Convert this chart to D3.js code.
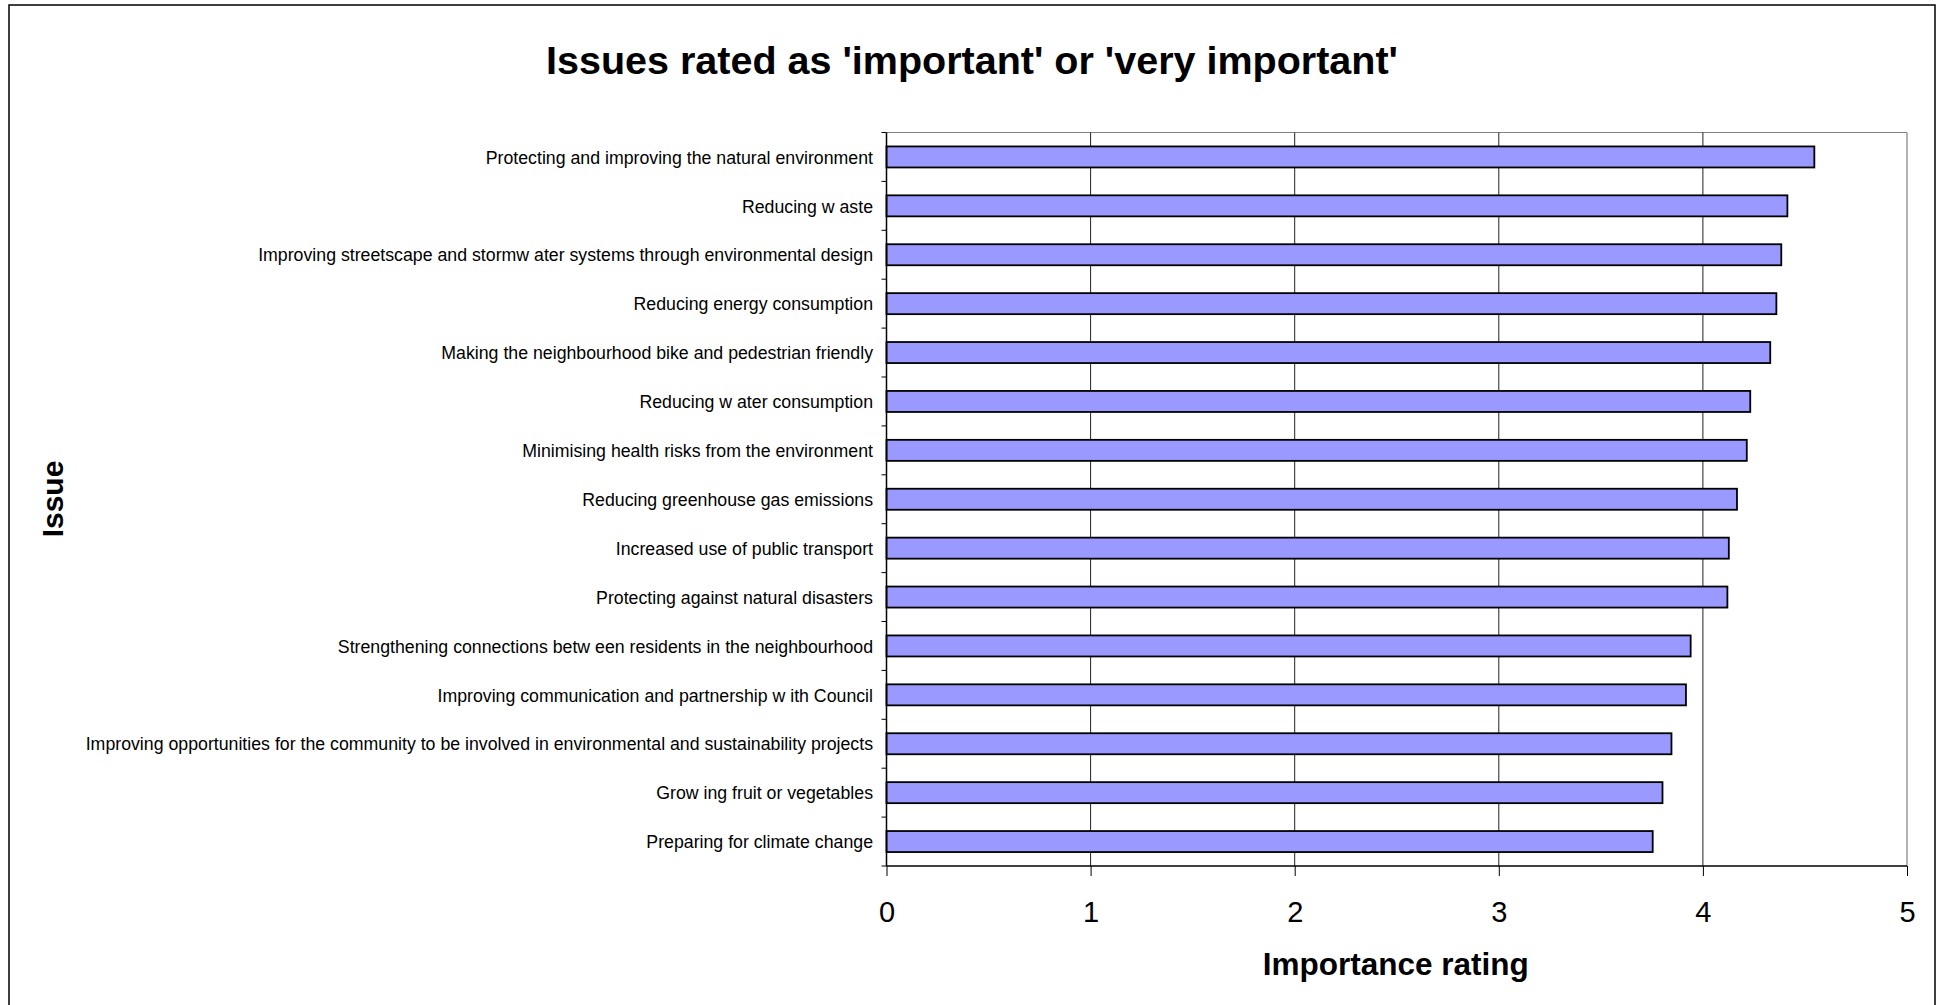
<!DOCTYPE html>
<html>
<head>
<meta charset="utf-8">
<script src="https://cdn.jsdelivr.net/npm/d3@7"></script>
<style>
  html, body { margin: 0; padding: 0; background: #fff; }
  svg { display: block; }
  text { font-family: "Liberation Sans", Arial, sans-serif; }
</style>
</head>
<body>
<svg id="chart" width="1944" height="1005"></svg>
<script>
const titleText = "Issues rated as 'important' or 'very important'";
const xTitle = "Importance rating";
const yTitle = "Issue";

const categories = [
  "Protecting and improving the natural environment",
  "Reducing w aste",
  "Improving streetscape and stormw ater systems through environmental design",
  "Reducing energy consumption",
  "Making the neighbourhood bike and pedestrian friendly",
  "Reducing w ater consumption",
  "Minimising health risks from the environment",
  "Reducing greenhouse gas emissions",
  "Increased use of public transport",
  "Protecting against natural disasters",
  "Strengthening connections betw een residents in the neighbourhood",
  "Improving communication and partnership w ith Council",
  "Improving opportunities for the community to be involved in environmental and sustainability projects",
  "Grow ing fruit or vegetables",
  "Preparing for climate change"
];
const ratings = [4.546, 4.414, 4.384, 4.360, 4.330, 4.232, 4.215, 4.167, 4.127, 4.120, 3.940, 3.917, 3.846, 3.802, 3.754];
const xTicks = [0, 1, 2, 3, 4, 5];

const svg = d3.select("#chart");
const W = 1944, H = 1005;
const plot = { left: 886.5, right: 1907, top: 132.5, bottom: 866 };

// outer frame
svg.append("rect")
  .attr("x", 9).attr("y", 5)
  .attr("width", 1935 - 9).attr("height", H + 10)
  .attr("fill", "#fff").attr("stroke", "#000").attr("stroke-width", 1.5);

const x = d3.scaleLinear().domain([0, 5]).range([plot.left, plot.right]);
const y = d3.scaleBand().domain(categories).range([plot.top, plot.bottom]).paddingInner(0.57).paddingOuter(0.285);
const yOuter = d3.scaleBand().domain(categories).range([plot.top, plot.bottom]);

// plot border (top & right gray)
svg.append("line").attr("x1", plot.left).attr("x2", plot.right).attr("y1", plot.top).attr("y2", plot.top)
  .attr("stroke", "#808080").attr("stroke-width", 1.2);
svg.append("line").attr("x1", plot.right).attr("x2", plot.right).attr("y1", plot.top).attr("y2", plot.bottom)
  .attr("stroke", "#808080").attr("stroke-width", 1.2);

// gridlines
svg.append("g").selectAll("line")
  .data(xTicks.filter(d => d > 0 && d < 5))
  .join("line")
  .attr("x1", d => x(d)).attr("x2", d => x(d))
  .attr("y1", plot.top).attr("y2", plot.bottom)
  .attr("stroke", "#222").attr("stroke-width", 1);

// bars
svg.append("g").selectAll("rect")
  .data(categories)
  .join("rect")
  .attr("x", x(0))
  .attr("y", d => y(d))
  .attr("width", (d, i) => x(ratings[i]) - x(0))
  .attr("height", y.bandwidth())
  .attr("fill", "#9999FF")
  .attr("stroke", "#000")
  .attr("stroke-width", 1.8);

// bottom axis
const xAxis = d3.axisBottom(x).tickValues(xTicks).tickSize(10).tickPadding(6).tickFormat(d3.format("d"));
const gx = svg.append("g").attr("transform", `translate(0,${plot.bottom})`).call(xAxis);
gx.select(".domain").attr("stroke", "#000").attr("stroke-width", 1.5).attr("d", `M${plot.left},0H${plot.right}`);
gx.selectAll(".tick line").attr("stroke", "#000").attr("stroke-width", 1);
gx.selectAll(".tick text")
  .attr("font-size", "29px").attr("fill", "#000")
  .attr("font-family", "Liberation Sans, Arial, sans-serif")
  .attr("dy", null)
  .attr("y", 921.5 - plot.bottom);

// left axis line and boundary ticks
svg.append("line").attr("x1", plot.left).attr("x2", plot.left).attr("y1", plot.top).attr("y2", plot.bottom)
  .attr("stroke", "#000").attr("stroke-width", 1.5);
const boundaries = categories.map(c => yOuter(c)).concat([plot.bottom]);
svg.append("g").selectAll("line")
  .data(boundaries)
  .join("line")
  .attr("x1", plot.left - 5).attr("x2", plot.left)
  .attr("y1", d => d).attr("y2", d => d)
  .attr("stroke", "#000").attr("stroke-width", 1);

// category labels (condensed like the original)
const labelG = svg.append("g");
const labels = labelG.selectAll("text")
  .data(categories)
  .join("text")
  .attr("x", 0)
  .attr("y", d => yOuter(d) + yOuter.bandwidth() / 2)
  .attr("dy", "0.36em")
  .attr("text-anchor", "end")
  .attr("font-size", "18.5px")
  .attr("fill", "#000")
  .text(d => d);
let maxLen = 0;
labels.each(function() { maxLen = Math.max(maxLen, this.getComputedTextLength()); });
const sx = (873 - 85) / maxLen;
labelG.attr("transform", `translate(873,0) scale(${sx},1)`);

// title
svg.append("text")
  .attr("x", 972).attr("y", 73.5)
  .attr("text-anchor", "middle")
  .attr("font-size", "39.5px").attr("font-weight", "bold")
  .attr("fill", "#000")
  .text(titleText);

// x title
svg.append("text")
  .attr("x", (plot.left + plot.right) / 2 - 1).attr("y", 975)
  .attr("text-anchor", "middle")
  .attr("font-size", "31.5px").attr("font-weight", "bold")
  .attr("fill", "#000")
  .text(xTitle);

// y title
svg.append("text")
  .attr("transform", `translate(63,499) rotate(-90)`)
  .attr("text-anchor", "middle")
  .attr("font-size", "30px").attr("font-weight", "bold")
  .attr("fill", "#000")
  .text(yTitle);
</script>
</body>
</html>
